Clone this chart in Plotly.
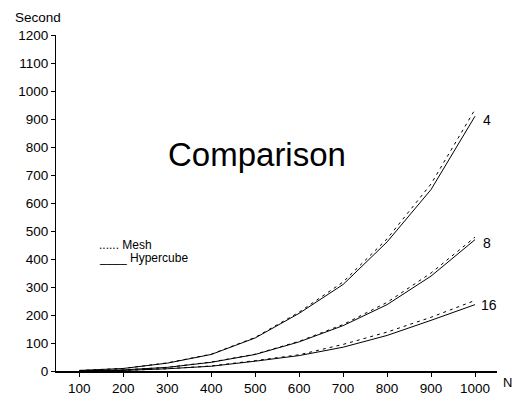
import plotly.graph_objects as go

N = [100, 200, 300, 400, 500, 600, 700, 800, 900, 1000]
hyper4 = [2, 9, 28, 59, 118, 206, 309, 461, 648, 910]
mesh4 = [2, 9, 29, 60, 120, 210, 318, 472, 668, 934]
hyper8 = [0.5, 4, 13, 31, 59, 104, 162, 237, 339, 469]
mesh8 = [0.5, 4, 13, 32, 60, 106, 166, 245, 350, 478]
hyper16 = [0.3, 2, 8, 17, 35, 55, 85, 127, 181, 237]
mesh16 = [0.3, 2, 8, 18, 37, 58, 95, 139, 192, 252]
series_labels = ["4", "8", "16"]
y_ticks = list(range(0, 1201, 100))

FONT = "Liberation Sans, Arial, sans-serif"
fig = go.Figure()
for h, m in [(hyper4, mesh4), (hyper8, mesh8), (hyper16, mesh16)]:
    fig.add_trace(go.Scatter(x=N, y=m, mode="lines",
                             line=dict(color="black", width=1, dash="3px,4px"),
                             showlegend=False, hoverinfo="skip"))
    fig.add_trace(go.Scatter(x=N, y=h, mode="lines",
                             line=dict(color="black", width=1),
                             showlegend=False, hoverinfo="skip"))

label_shift = {"4": (6, -7), "8": (6, -5), "16": (4, -2)}
for lab, h, m in zip(series_labels, [hyper4, hyper8, hyper16], [mesh4, mesh8, mesh16]):
    xs, ys = label_shift[lab]
    fig.add_annotation(x=N[-1], y=(h[-1] + m[-1]) / 2, text=lab, showarrow=False,
                       xanchor="left", xshift=xs, yshift=ys,
                       font=dict(size=14, color="black", family=FONT))

def ann(text, x, y, size, xanchor="center"):
    fig.add_annotation(x=x, y=y, xref="paper", yref="paper", text=text,
                       showarrow=False, xanchor=xanchor, yanchor="middle",
                       font=dict(size=size, color="black", family=FONT))

ann("Comparison", 0.456, 0.643, 33)
ann("Second", -0.041, 1.052, 13.5)
ann("N", 1.024, -0.034, 13)
ann("...... Mesh", 0.093, 0.376, 12, "left")
ann("____ Hypercube", 0.093, 0.336, 12, "left")

fig.update_layout(
    width=512, height=401,
    margin=dict(l=56, r=15, t=35, b=29.5, autoexpand=False),
    paper_bgcolor="white", plot_bgcolor="white",
    font=dict(family=FONT, size=13.5, color="black"),
    xaxis=dict(range=[47, 1050], tickvals=N, showgrid=False, zeroline=False,
               showline=True, linecolor="black", linewidth=2, automargin=False,
               ticks="outside", ticklen=4, tickcolor="black",
               tickfont=dict(size=13.5)),
    yaxis=dict(range=[0, 1200], tickvals=y_ticks, showgrid=False, zeroline=False,
               showline=True, linecolor="black", linewidth=1, automargin=False,
               ticks="outside", ticklen=4, tickcolor="black",
               tickfont=dict(size=13.5)),
)
fig.write_html("out.html", config={"displayModeBar": False},
               post_script="document.body.style.margin='0';document.body.style.overflow='hidden';")
